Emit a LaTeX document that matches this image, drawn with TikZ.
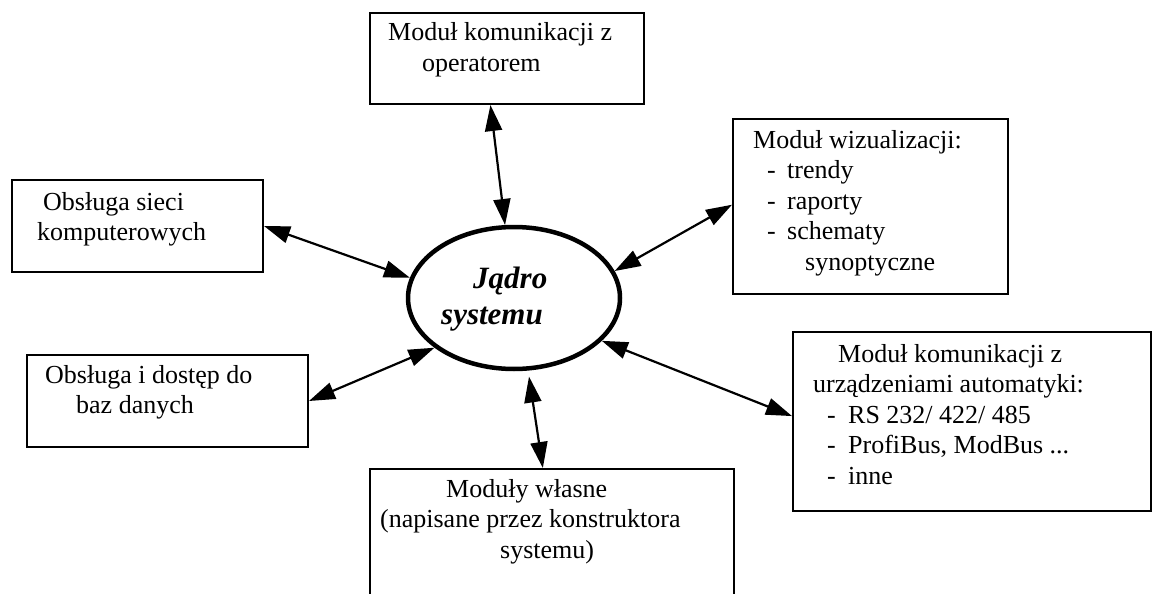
\documentclass[tikz,border=0pt]{standalone}
\usepackage{fontspec}
\setmainfont{Liberation Serif}
\usetikzlibrary{arrows.meta,calc,shapes.geometric}

% stacked lines: first line's baseline is the node's baseline
\newcommand\txtstack[2][30.5pt]{\vtop{\baselineskip=#1\lineskiplimit=-100pt\lineskip=0pt #2}}
% one line with an optional left indent
\newcommand\tline[2][0pt]{\hbox{\hspace*{#1}#2}}
% dash list item: indent, width of the dash column, text
\newcommand\ditem[3]{\hbox{\hspace*{#1}\makebox[#2][l]{-}#3}}

\tikzset{
  modbox/.style={draw, rectangle, line width=2pt, inner sep=0pt},
  core/.style={draw, ellipse, line width=4.5pt, inner sep=0pt,
               minimum width=212pt, minimum height=142pt},
  txt/.style={inner sep=0pt, anchor=base west, font=\fontsize{26pt}{30.5pt}\selectfont},
  coretxt/.style={inner sep=0pt, anchor=base west,
                  font=\fontsize{31pt}{36pt}\selectfont\bfseries\itshape},
  link/.style={line width=2.2pt,
               {Triangle[length=26pt,width=17pt]}-{Triangle[length=26pt,width=17pt]}}
}

\begin{document}
\begin{tikzpicture}[x=1pt, y=-1pt]
  \useasboundingbox (0,0) rectangle (1154,594);
  \clip (0,0) rectangle (1154,594);

  % central core
  \node[core] (jadro) at (514,298) {};
  \node[coretxt] (jadroT) at (441,288) {\txtstack[36pt]{\tline[32pt]{Jądro}\tline{systemu}}};

  % surrounding modules
  \node[modbox, minimum width=274pt, minimum height=91pt] (op) at (507,58.5) {};
  \node[txt] (opT) at (388,41) {\txtstack{\tline{Moduł komunikacji z}\tline[34pt]{operatorem}}};

  \node[modbox, minimum width=251pt, minimum height=92pt] (net) at (137.5,226) {};
  \node[txt] (netT) at (37,210) {\txtstack{\tline[6pt]{Obsługa sieci}\tline{komputerowych}}};

  \node[modbox, minimum width=281pt, minimum height=92pt] (db) at (167.5,401) {};
  \node[txt] (dbT) at (45,383) {\txtstack{\tline{Obsługa i dostęp do}\tline[31pt]{baz danych}}};

  \node[modbox, minimum width=275pt, minimum height=175pt] (viz) at (870.5,206.5) {};
  \node[txt] (vizT) at (753,148) {\txtstack{\tline{Moduł wizualizacji:}%
      \ditem{14pt}{20pt}{trendy}\ditem{14pt}{20pt}{raporty}%
      \ditem{14pt}{20pt}{schematy}\tline[52pt]{synoptyczne}}};

  \node[modbox, minimum width=358pt, minimum height=179pt] (auto) at (972,421.5) {};
  \node[txt] (autoT) at (813,362) {\txtstack{\tline[25pt]{Moduł komunikacji z}%
      \tline{urządzeniami automatyki:}\ditem{14pt}{21pt}{RS 232/ 422/ 485}%
      \ditem{14pt}{21pt}{ProfiBus, ModBus ...}\ditem{14pt}{21pt}{inne}}};

  \node[modbox, minimum width=364pt, minimum height=171pt] (own) at (552,554.5) {};
  \node[txt] (ownT) at (380,497) {\txtstack{\tline[66pt]{Moduły własne}%
      \tline{(napisane przez konstruktora}\tline[120pt]{systemu)}}};

  % two-way links to the core
  \draw[link] ($(op.south west)!0.44!(op.south east)$) -- (jadro.97);
  \draw[link] (net.east) -- (jadro.169);
  \draw[link] (db.east) -- (jadro.212);
  \draw[link] ($(viz.north west)!0.49!(viz.south west)$) -- (jadro.15);
  \draw[link] ($(auto.north west)!0.47!(auto.south west)$) -- (jadro.334);
  \draw[link, shorten >=6pt] ($(own.north west)!0.475!(own.north east)$) -- (jadro.281);
\end{tikzpicture}
\end{document}
